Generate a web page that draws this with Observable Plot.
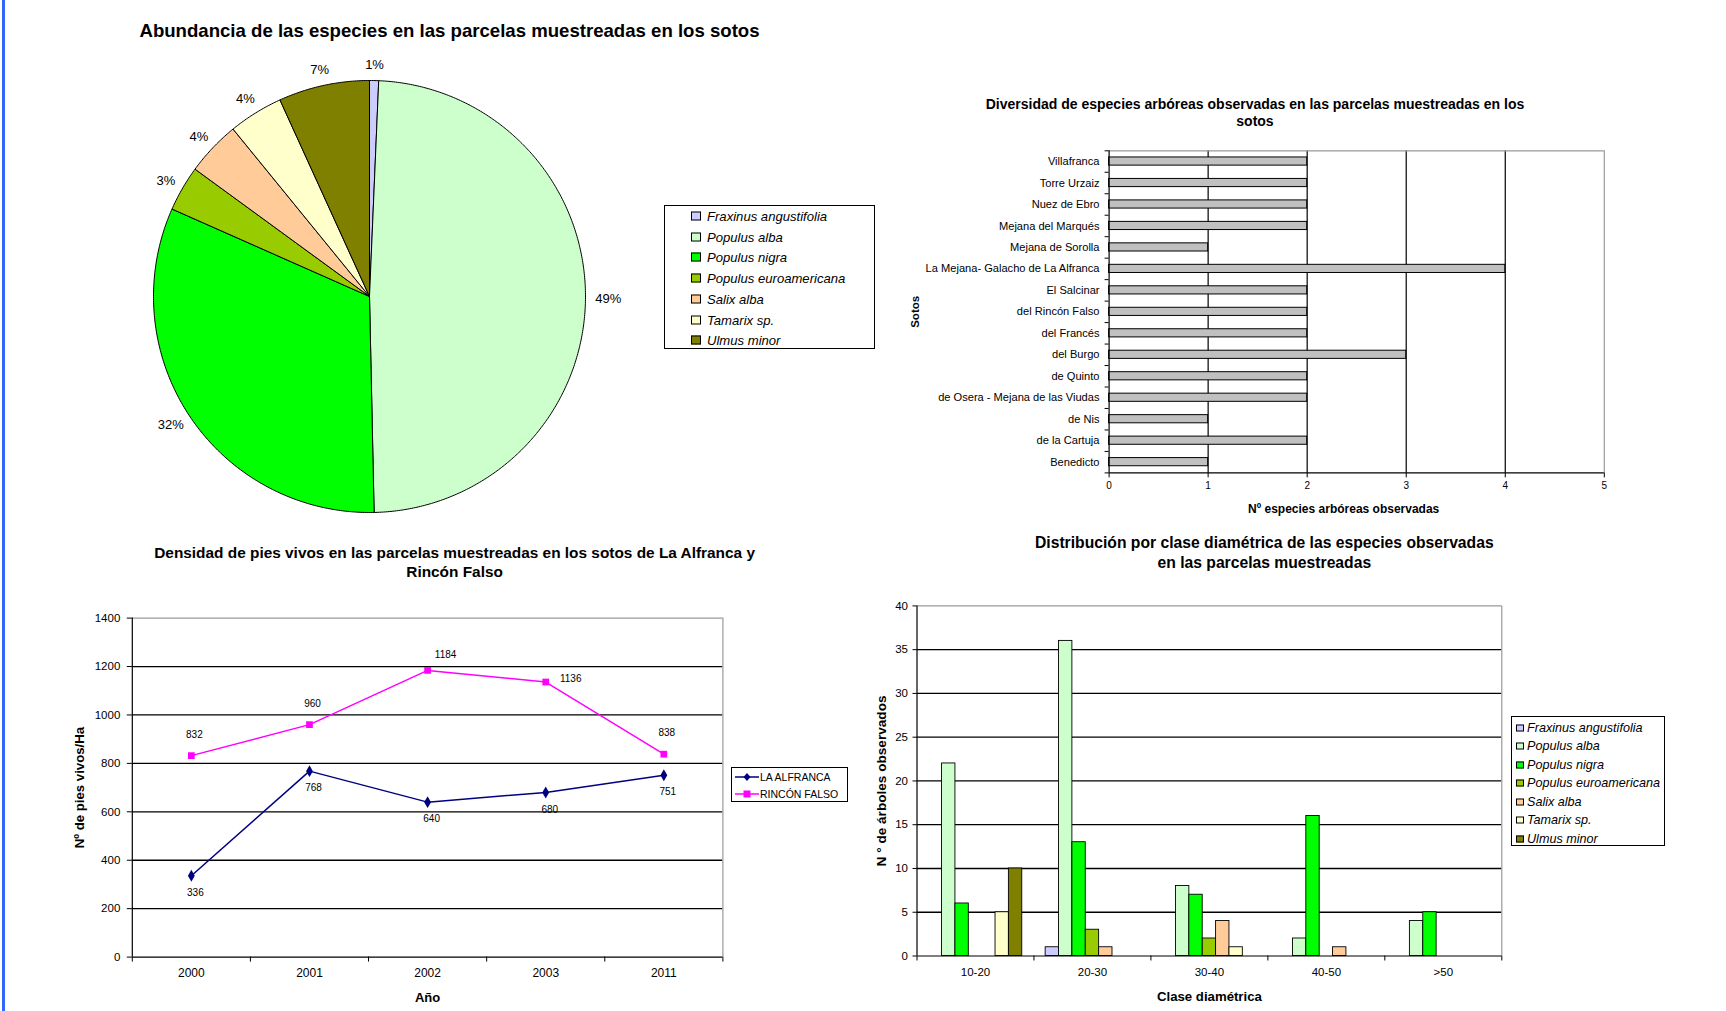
<!DOCTYPE html>
<html><head><meta charset="utf-8">
<script src="https://cdn.jsdelivr.net/npm/d3@7"></script>
<script src="https://cdn.jsdelivr.net/npm/@observablehq/plot@0.6"></script>
<style>
html,body{margin:0;padding:0;background:#fff;}
#page{position:relative;width:1726px;height:1011px;overflow:hidden;font-family:'Liberation Sans',Arial,sans-serif;color:#000;background:#fff;}
.chart{position:absolute;}
.title{position:absolute;font-weight:bold;text-align:center;white-space:nowrap;transform:translateX(-50%);}
.legend{position:absolute;border:1.5px solid #000;background:#fff;box-sizing:border-box;}
.legend .item{position:absolute;white-space:nowrap;font-style:italic;transform:translateY(-50%);}
.sw{position:absolute;box-sizing:border-box;border:1px solid #000;transform:translateY(-50%);}
#edge{position:absolute;left:2px;top:0;width:2.5px;height:1011px;background:#3366ff;}
</style></head>
<body><div id="page"><div id="edge"></div></div>
<script>
const FONT = "'Liberation Sans', Arial, sans-serif";

// ---------- data ----------
const species = ["Fraxinus angustifolia","Populus alba","Populus nigra","Populus euroamericana","Salix alba","Tamarix sp.","Ulmus minor"];
const speciesColors = ["#ccccff","#ccffcc","#00ff00","#99cc00","#ffcc99","#ffffcc","#808000"];
// abundance (number of trees per species, all plots)
const abundance = [1,72,47,5,6,6,10];

const sotos = ["Villafranca","Torre Urzaiz","Nuez de Ebro","Mejana del Marqués","Mejana de Sorolla","La Mejana- Galacho de La Alfranca","El Salcinar","del Rincón Falso","del Francés","del Burgo","de Quinto","de Osera - Mejana de las Viudas","de Nis","de la Cartuja","Benedicto"];
const nSpecies = [2,2,2,2,1,4,2,2,2,3,2,2,1,2,1];

const years = ["2000","2001","2002","2003","2011"];
const alfranca = [336,768,640,680,751];
const rincon = [832,960,1184,1136,838];
const lineSeries = ["LA ALFRANCA","RINCÓN FALSO"];

const classes = ["10-20","20-30","30-40","40-50",">50"];
const diamFraxinus = [0,1,0,0,0];
const diamAlba = [22,36,8,2,4];
const diamNigra = [6,13,7,16,5];
const diamEuro = [0,3,2,0,0];
const diamSalix = [0,1,4,1,0];
const diamTamarix = [5,0,1,0,0];
const diamUlmus = [10,0,0,0,0];
const diamBySpecies = [diamFraxinus,diamAlba,diamNigra,diamEuro,diamSalix,diamTamarix,diamUlmus];

// ---------- helpers ----------
const page = document.getElementById("page");
function place(node, left, top){ node.classList.add("chart"); node.style.left = left+"px"; node.style.top = top+"px"; page.appendChild(node); }
function title(lines, cx, top, size, lh){
  const d = document.createElement("div"); d.className="title";
  d.style.left = cx+"px"; d.style.top = top+"px"; d.style.fontSize = size+"px"; d.style.lineHeight = lh+"px";
  d.innerHTML = lines.join("<br>"); page.appendChild(d);
}
const baseStyle = (fs)=>({fontFamily:FONT,fontSize:fs+"px",color:"#000",background:"transparent",overflow:"visible"});

// ---------- Chart 1: pie ----------
const R = 216;
const total = d3.sum(abundance);
const arcs = d3.pie().sort(null).value(d=>d)(abundance);
const piePts = [];
const pieLabels = [];
arcs.forEach((a,k)=>{
  piePts.push({k,x:0,y:0});
  const n = Math.max(2, Math.ceil((a.endAngle-a.startAngle)/(Math.PI/360)));
  for(let t=0;t<=n;t++){const ang=a.startAngle+(a.endAngle-a.startAngle)*t/n; piePts.push({k,x:Math.sin(ang),y:Math.cos(ang)});}
  piePts.push({k,x:0,y:0});
  const mid=(a.startAngle+a.endAngle)/2;
  const txt=Math.round(a.value/total*100)+"%";
  const hw=(txt.length-1)*0.556*13/2+0.889*13/2, hh=6.5;
  const s=Math.sin(mid), c=Math.cos(mid);
  pieLabels.push({x:(1.045*R*s+hw*s)/R, y:(1.045*R*c+hh*c)/R, t:txt});
});
place(Plot.plot({
  width:520,height:490,margin:0,
  x:{domain:[-260/R,260/R],axis:null},
  y:{domain:[-244/R,246/R],axis:null},
  color:{domain:species,range:speciesColors},
  style:baseStyle(13),
  marks:[
    Plot.line(piePts,{x:"x",y:"y",z:"k",fill:d=>species[d.k],stroke:"#000",strokeWidth:1,strokeLinejoin:"round"}),
    Plot.text(pieLabels,{x:"x",y:"y",text:"t",fontSize:13})
  ]
}),109,50);
title(["Abundancia de las especies en las parcelas muestreadas en los sotos"],449.5,20,18.6,22);

// species legend (pie & bars)
function speciesLegend(left,top,w,h,y0,step,swX,sw,txtX,fs){
  const L=document.createElement("div"); L.className="legend";
  Object.assign(L.style,{left:left+"px",top:top+"px",width:w+"px",height:h+"px"});
  species.forEach((s,k)=>{
    const q=document.createElement("div"); q.className="sw";
    Object.assign(q.style,{left:swX+"px",top:(y0+k*step)+"px",width:sw+"px",height:(sw-1)+"px",background:speciesColors[k]});
    const t=document.createElement("div"); t.className="item"; t.textContent=s;
    Object.assign(t.style,{left:txtX+"px",top:(y0+k*step)+"px",fontSize:fs+"px"});
    L.appendChild(q); L.appendChild(t);
  });
  page.appendChild(L);
}
speciesLegend(664,205,211,144,10,20.7,26,10,42,13.1);

// ---------- Chart 2: horizontal bars ----------
const divRows = sotos.map((s,i)=>({i,n:nSpecies[i]}));
place(Plot.plot({
  width:730,height:400,marginLeft:218.6,marginRight:16.2,marginTop:20.3,marginBottom:57.6,
  x:{domain:[0,5]}, y:{domain:[sotos.length,0]},
  style:baseStyle(11),
  marks:[
    Plot.ruleX([1,2,3,4],{stroke:"#000",strokeWidth:1.2}),
    Plot.ruleX([5],{stroke:"#999",strokeWidth:1.2}),
    Plot.ruleY([0],{stroke:"#999",strokeWidth:1.2}),
    Plot.rect(divRows,{x1:0,x2:"n",y1:d=>d.i+0.31,y2:d=>d.i+0.69,fill:"#c0c0c0",stroke:"#000",strokeWidth:1}),
    Plot.ruleX([0],{stroke:"#000",strokeWidth:1.2}),
    Plot.ruleY([sotos.length],{stroke:"#000",strokeWidth:1.2}),
    Plot.axisX({ticks:d3.range(6),tickSize:5,tickPadding:4,tickFormat:d=>String(d),label:null,fontSize:10}),
    Plot.axisY({ticks:d3.range(sotos.length+1),tickSize:4,tickFormat:()=>"",label:null}),
    Plot.axisY({ticks:sotos.map((_,i)=>i+0.5),tickSize:0,tickPadding:9.6,tickFormat:d=>sotos[Math.floor(d)],label:null,fontSize:11.1}),
    Plot.text(["Sotos"],{text:d=>d,frameAnchor:"left",dx:-194,rotate:-90,textAnchor:"middle",lineAnchor:"middle",fontWeight:"bold",fontSize:11.5}),
    Plot.text(["Nº especies arbóreas observadas"],{text:d=>d,frameAnchor:"bottom",dx:-13,dy:36,textAnchor:"middle",lineAnchor:"middle",fontWeight:"bold",fontSize:12})
  ]
}),890,130);
title(["Diversidad de especies arbóreas observadas en las parcelas muestreadas en los","sotos"],1255,95.8,14,17.6);

// ---------- Chart 3: lines ----------
const alfRows = years.map((y,i)=>({i,v:alfranca[i]}));
const rinRows = years.map((y,i)=>({i,v:rincon[i]}));
const cx = d=>d.i+0.5;
place(Plot.plot({
  width:700,height:411,marginLeft:91.8,marginRight:17.6,marginTop:17.6,marginBottom:54.4,
  x:{domain:[0,5]}, y:{domain:[0,1400]},
  style:baseStyle(12),
  marks:[
    Plot.ruleY(d3.range(200,1400,200),{stroke:"#000",strokeWidth:1.3}),
    Plot.ruleY([1400],{stroke:"#999",strokeWidth:1.2}),
    Plot.ruleX([5],{stroke:"#999",strokeWidth:1.2}),
    Plot.ruleX([0],{stroke:"#000",strokeWidth:1.2}),
    Plot.ruleY([0],{stroke:"#000",strokeWidth:1.2}),
    Plot.line(alfRows,{x:cx,y:"v",stroke:"#000080",strokeWidth:1.5}),
    Plot.dot(alfRows,{x:cx,y:"v",symbol:"diamond",fill:"#000080",r:3.6}),
    Plot.line(rinRows,{x:cx,y:"v",stroke:"#ff00ff",strokeWidth:1.5}),
    Plot.dot(rinRows,{x:cx,y:"v",symbol:"square",fill:"#ff00ff",r:3.8}),
    Plot.text(alfRows,{x:cx,y:"v",text:d=>String(d.v),dx:4,dy:17,fontSize:10}),
    Plot.text(rinRows.filter(d=>d.i!==2&&d.i!==3),{x:cx,y:"v",text:d=>String(d.v),dx:3,dy:-21,fontSize:10}),
    Plot.text(rinRows.filter(d=>d.i===2),{x:cx,y:"v",text:d=>String(d.v),dx:18,dy:-16,fontSize:10}),
    Plot.text(rinRows.filter(d=>d.i===3),{x:cx,y:"v",text:d=>String(d.v),dx:25,dy:-3,fontSize:10}),
    Plot.axisX({ticks:d3.range(6),tickSize:5,tickFormat:()=>"",label:null}),
    Plot.axisX({ticks:years.map((_,i)=>i+0.5),tickSize:0,tickPadding:11,tickFormat:d=>years[Math.floor(d)],label:null,fontSize:12}),
    Plot.axisY({ticks:d3.range(0,1401,200),tickSize:5,tickPadding:7,label:null,fontSize:11.5,tickFormat:d=>String(d)}),
    Plot.text(["Año"],{text:d=>d,frameAnchor:"bottom",dy:41,textAnchor:"middle",lineAnchor:"middle",fontWeight:"bold",fontSize:13}),
    Plot.text(["Nº de pies vivos/Ha"],{text:d=>d,frameAnchor:"left",dx:-53,rotate:-90,textAnchor:"middle",lineAnchor:"middle",fontWeight:"bold",fontSize:13.2})
  ]
}),40,600);
title(["Densidad de pies vivos en las parcelas muestreadas en los sotos de La Alfranca y","Rincón Falso"],454.6,542.7,15.4,19.8);

// line legend
(function(){
  const L=document.createElement("div"); L.className="legend";
  Object.assign(L.style,{left:"731px",top:"767px",width:"117px",height:"35px",borderWidth:"1px"});
  const syms=[
    '<svg width="24" height="10" style="position:absolute;left:3px;top:0;"><line x1="0" y1="5" x2="24" y2="5" stroke="#000080" stroke-width="1.5"/><path d="M12 1 L15.5 5 L12 9 L8.5 5 Z" fill="#000080"/></svg>',
    '<svg width="24" height="10" style="position:absolute;left:3px;top:0;"><line x1="0" y1="5" x2="24" y2="5" stroke="#ff00ff" stroke-width="1.5"/><rect x="8.5" y="1.5" width="7" height="7" fill="#ff00ff"/></svg>'
  ];
  lineSeries.forEach((s,k)=>{
    const row=document.createElement("div");
    Object.assign(row.style,{position:"absolute",left:"0",top:(4+k*16.5)+"px",height:"10px",width:"100%"});
    row.innerHTML=syms[k];
    const t=document.createElement("div"); t.textContent=s;
    Object.assign(t.style,{position:"absolute",left:"28px",top:"-1px",fontSize:"10.5px",whiteSpace:"nowrap",lineHeight:"12px"});
    row.appendChild(t); L.appendChild(row);
  });
  page.appendChild(L);
})();

// ---------- Chart 4: grouped bars ----------
const diamRows = [];
diamBySpecies.forEach((arr,sj)=>arr.forEach((v,ci)=>{ if(v>0) diamRows.push({ci,sj,v}); }));
const bw = 0.8/species.length;
place(Plot.plot({
  width:670,height:421,marginLeft:66.5,marginRight:18.7,marginTop:15.4,marginBottom:55.5,
  x:{domain:[0,5]}, y:{domain:[0,40]},
  color:{domain:species,range:speciesColors},
  style:baseStyle(11.5),
  marks:[
    Plot.ruleY(d3.range(5,40,5),{stroke:"#000",strokeWidth:1.3}),
    Plot.ruleY([40],{stroke:"#999",strokeWidth:1.2}),
    Plot.ruleX([5],{stroke:"#999",strokeWidth:1.2}),
    Plot.rect(diamRows,{x1:d=>d.ci+0.1+d.sj*bw,x2:d=>d.ci+0.1+(d.sj+1)*bw,y1:0,y2:"v",fill:d=>species[d.sj],stroke:"#000",strokeWidth:0.9}),
    Plot.ruleX([0],{stroke:"#000",strokeWidth:1.2}),
    Plot.ruleY([0],{stroke:"#000",strokeWidth:1.2}),
    Plot.axisX({ticks:d3.range(6),tickSize:5,tickFormat:()=>"",label:null}),
    Plot.axisX({ticks:classes.map((_,i)=>i+0.5),tickSize:0,tickPadding:12,tickFormat:d=>classes[Math.floor(d)],label:null,fontSize:11.5}),
    Plot.axisY({ticks:d3.range(0,41,5),tickSize:4,tickPadding:5,label:null,fontSize:11.5,tickFormat:d=>String(d)}),
    Plot.text(["Clase diamétrica"],{text:d=>d,frameAnchor:"bottom",dy:40.5,textAnchor:"middle",lineAnchor:"middle",fontWeight:"bold",fontSize:13.2}),
    Plot.text(["N ° de árboles observados"],{text:d=>d,frameAnchor:"left",dx:-35.5,rotate:-90,textAnchor:"middle",lineAnchor:"middle",fontWeight:"bold",fontSize:13.6})
  ]
}),850,590);
title(["Distribución por clase diamétrica de las especies observadas","en las parcelas muestreadas"],1264.3,532.8,15.7,19.8);
speciesLegend(1511,715.6,154,130,11,18.5,4,8,15,12.6);
</script>
</body></html>
